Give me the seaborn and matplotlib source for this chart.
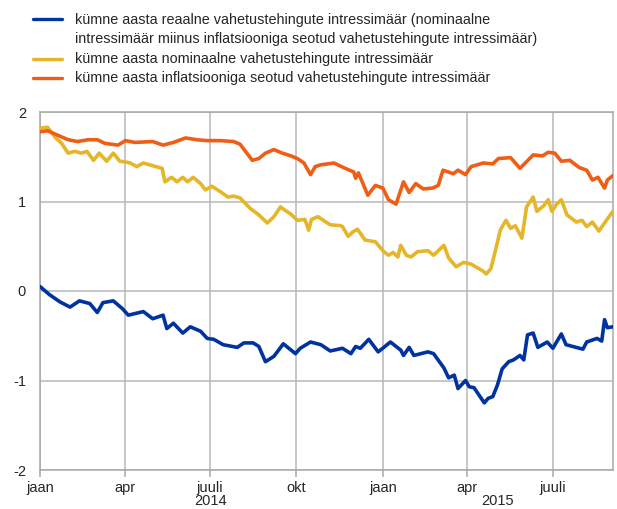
import pandas as pd
import matplotlib
matplotlib.use("Agg")
import matplotlib.pyplot as plt
import matplotlib.dates as mdates
from matplotlib.lines import Line2D
import seaborn as sns

# --- data (percent) ---
real_dates = ["2014-01-01", "2014-01-11", "2014-01-22", "2014-02-02", "2014-02-12", "2014-02-23",
              "2014-03-03", "2014-03-09", "2014-03-20", "2014-03-30", "2014-04-05", "2014-04-21",
              "2014-05-01", "2014-05-12", "2014-05-16", "2014-05-23", "2014-06-02", "2014-06-10",
              "2014-06-21", "2014-06-28", "2014-07-05", "2014-07-15", "2014-07-30", "2014-08-06",
              "2014-08-16", "2014-08-22", "2014-08-29", "2014-09-07", "2014-09-17", "2014-09-30",
              "2014-10-05", "2014-10-16", "2014-10-27", "2014-11-06", "2014-11-19", "2014-11-28",
              "2014-12-03", "2014-12-08", "2014-12-17", "2014-12-27", "2015-01-02", "2015-01-09",
              "2015-01-20", "2015-01-23", "2015-01-29", "2015-02-03", "2015-02-18", "2015-02-24",
              "2015-03-07", "2015-03-12", "2015-03-18", "2015-03-22", "2015-03-30", "2015-04-03",
              "2015-04-08", "2015-04-19", "2015-04-23", "2015-04-28", "2015-05-03", "2015-05-08",
              "2015-05-15", "2015-05-20", "2015-05-27", "2015-05-31", "2015-06-04", "2015-06-10",
              "2015-06-15", "2015-06-25", "2015-07-01", "2015-07-10", "2015-07-15", "2015-08-02",
              "2015-08-06", "2015-08-17", "2015-08-22", "2015-08-25", "2015-08-28", "2015-09-03"]
real_vals = [0.05, -0.04, -0.12, -0.18, -0.11, -0.14,
             -0.24, -0.13, -0.11, -0.20, -0.27, -0.23,
             -0.31, -0.27, -0.42, -0.36, -0.47, -0.40,
             -0.45, -0.53, -0.54, -0.60, -0.63, -0.58,
             -0.58, -0.62, -0.79, -0.73, -0.59, -0.70,
             -0.64, -0.57, -0.60, -0.67, -0.64, -0.70,
             -0.62, -0.64, -0.54, -0.68, -0.63, -0.57,
             -0.66, -0.72, -0.63, -0.72, -0.68, -0.70,
             -0.86, -0.97, -0.94, -1.09, -1.00, -1.07,
             -1.08, -1.25, -1.20, -1.18, -1.05, -0.87,
             -0.79, -0.77, -0.72, -0.77, -0.49, -0.47,
             -0.63, -0.57, -0.64, -0.48, -0.60, -0.65,
             -0.57, -0.53, -0.56, -0.32, -0.41, -0.40]

nominal_dates = ["2014-01-01", "2014-01-09", "2014-01-17", "2014-01-24", "2014-01-31", "2014-02-07",
                 "2014-02-14", "2014-02-20", "2014-02-27", "2014-03-05", "2014-03-13", "2014-03-20",
                 "2014-03-27", "2014-04-03", "2014-04-07", "2014-04-14", "2014-04-21", "2014-05-01",
                 "2014-05-11", "2014-05-14", "2014-05-21", "2014-05-27", "2014-06-02", "2014-06-07",
                 "2014-06-13", "2014-06-21", "2014-06-26", "2014-07-03", "2014-07-12", "2014-07-20",
                 "2014-07-26", "2014-08-02", "2014-08-13", "2014-08-22", "2014-08-31", "2014-09-07",
                 "2014-09-14", "2014-09-19", "2014-09-25", "2014-10-02", "2014-10-10", "2014-10-14",
                 "2014-10-17", "2014-10-24", "2014-10-31", "2014-11-06", "2014-11-17", "2014-11-19",
                 "2014-11-25", "2014-11-30", "2014-12-05", "2014-12-13", "2014-12-24", "2015-01-02",
                 "2015-01-07", "2015-01-12", "2015-01-17", "2015-01-20", "2015-01-26", "2015-01-31",
                 "2015-02-07", "2015-02-18", "2015-02-24", "2015-03-01", "2015-03-07", "2015-03-12",
                 "2015-03-20", "2015-03-28", "2015-04-05", "2015-04-18", "2015-04-21", "2015-04-26",
                 "2015-05-01", "2015-05-06", "2015-05-12", "2015-05-17", "2015-05-22", "2015-05-29",
                 "2015-06-03", "2015-06-10", "2015-06-14", "2015-06-21", "2015-06-26", "2015-06-30",
                 "2015-07-05", "2015-07-10", "2015-07-16", "2015-07-26", "2015-08-01", "2015-08-06",
                 "2015-08-12", "2015-08-19", "2015-08-27", "2015-09-03"]
nominal_vals = [1.82, 1.83, 1.72, 1.65, 1.54, 1.56,
                1.54, 1.56, 1.46, 1.54, 1.45, 1.54,
                1.45, 1.44, 1.43, 1.39, 1.43, 1.40,
                1.37, 1.22, 1.27, 1.22, 1.27, 1.22,
                1.27, 1.20, 1.13, 1.17, 1.11, 1.05,
                1.06, 1.04, 0.92, 0.85, 0.76, 0.83,
                0.94, 0.90, 0.86, 0.79, 0.80, 0.68,
                0.80, 0.83, 0.78, 0.74, 0.73, 0.72,
                0.61, 0.66, 0.69, 0.57, 0.55, 0.44,
                0.40, 0.43, 0.38, 0.51, 0.40, 0.38,
                0.44, 0.45, 0.40, 0.45, 0.51, 0.37,
                0.27, 0.32, 0.30, 0.22, 0.19, 0.25,
                0.46, 0.68, 0.79, 0.70, 0.73, 0.59,
                0.94, 1.05, 0.89, 0.95, 1.02, 0.89,
                0.97, 1.02, 0.85, 0.77, 0.79, 0.72,
                0.77, 0.67, 0.79, 0.89]

infl_dates = ["2014-01-01", "2014-01-09", "2014-01-20", "2014-01-31", "2014-02-10", "2014-02-21",
              "2014-03-03", "2014-03-11", "2014-03-25", "2014-04-02", "2014-04-12", "2014-05-01",
              "2014-05-12", "2014-05-23", "2014-06-05", "2014-06-17", "2014-06-28", "2014-07-12",
              "2014-07-26", "2014-08-02", "2014-08-15", "2014-08-22", "2014-08-29", "2014-09-07",
              "2014-09-16", "2014-09-25", "2014-10-02", "2014-10-09", "2014-10-16", "2014-10-21",
              "2014-10-27", "2014-11-10", "2014-11-22", "2014-12-01", "2014-12-03", "2014-12-06",
              "2014-12-16", "2014-12-24", "2015-01-01", "2015-01-07", "2015-01-15", "2015-01-23",
              "2015-01-29", "2015-02-05", "2015-02-13", "2015-02-23", "2015-03-01", "2015-03-06",
              "2015-03-17", "2015-03-22", "2015-03-30", "2015-04-05", "2015-04-18", "2015-04-28",
              "2015-05-04", "2015-05-17", "2015-05-27", "2015-06-10", "2015-06-20", "2015-06-26",
              "2015-07-03", "2015-07-10", "2015-07-19", "2015-07-29", "2015-08-06", "2015-08-12",
              "2015-08-18", "2015-08-25", "2015-08-28", "2015-09-03"]
infl_vals = [1.78, 1.79, 1.74, 1.69, 1.67, 1.69,
             1.69, 1.65, 1.63, 1.68, 1.66, 1.67,
             1.63, 1.66, 1.71, 1.69, 1.68, 1.68,
             1.67, 1.64, 1.46, 1.48, 1.54, 1.58,
             1.54, 1.51, 1.48, 1.43, 1.30, 1.39,
             1.41, 1.43, 1.37, 1.33, 1.26, 1.32,
             1.07, 1.18, 1.15, 1.02, 0.97, 1.22,
             1.10, 1.20, 1.14, 1.15, 1.18, 1.35,
             1.31, 1.35, 1.30, 1.39, 1.43, 1.42,
             1.48, 1.49, 1.37, 1.52, 1.51, 1.55,
             1.54, 1.45, 1.46, 1.38, 1.35, 1.24,
             1.27, 1.15, 1.24, 1.29]

labels = ["kümne aasta reaalne vahetustehingute intressimäär (nominaalne\n"
          "intressimäär miinus inflatsiooniga seotud vahetustehingute intressimäär)",
          "kümne aasta nominaalne vahetustehingute intressimäär",
          "kümne aasta inflatsiooniga seotud vahetustehingute intressimäär"]
colors = ["#0033a0", "#e5b52a", "#f05e16"]
month_names = {1: "jaan", 4: "apr", 7: "juuli", 10: "okt"}

df = pd.concat([
    pd.DataFrame({"date": pd.to_datetime(real_dates), "value": real_vals, "series": "real"}),
    pd.DataFrame({"date": pd.to_datetime(nominal_dates), "value": nominal_vals, "series": "nominal"}),
    pd.DataFrame({"date": pd.to_datetime(infl_dates), "value": infl_vals, "series": "inflation"}),
])

sns.set_style("white")
plt.rcParams['font.family'] = ['Liberation Sans', 'DejaVu Sans']

fig = plt.figure(figsize=(6.17, 5.09), dpi=100)
ax = fig.add_axes([40 / 617, 39 / 509, 573 / 617, 358 / 509])

sns.lineplot(data=df, x="date", y="value", hue="series", estimator=None,
             hue_order=["real", "nominal", "inflation"],
             palette=dict(zip(["real", "nominal", "inflation"], colors)),
             linewidth=2.6, legend=False, ax=ax, zorder=3)

ax.set_xlim(pd.Timestamp("2014-01-01"), pd.Timestamp("2015-09-03"))
ax.set_ylim(-2, 2)
ax.set_yticks([-2, -1, 0, 1, 2])
ax.set_yticklabels(["-2", "-1", "0", "1", "2"])
ax.xaxis.set_major_locator(mdates.MonthLocator(bymonth=[1, 4, 7, 10]))
ax.xaxis.set_major_formatter(plt.FuncFormatter(lambda v, p: month_names[mdates.num2date(v).month]))
ax.set_xlabel("")
ax.set_ylabel("")

ax.grid(True, color="#b8b8b8", linewidth=1.1)
for s in ax.spines.values():
    s.set_color("#a8a8a8")
    s.set_linewidth(1.1)
ax.tick_params(axis="x", length=5, width=1.1, color="#a8a8a8", pad=3, labelsize=10.5, bottom=True)
ax.tick_params(axis="y", length=0, pad=10, labelsize=10.5)

# year labels centred under each year's part of the axis
trans = ax.get_xaxis_transform()
ax.text(pd.Timestamp("2014-07-02"), -0.086, "2014", transform=trans, ha="center", va="center", fontsize=10.5)
ax.text(pd.Timestamp("2015-05-03"), -0.086, "2015", transform=trans, ha="center", va="center", fontsize=10.5)

# legend drawn at the top
rows = [19, 59, 78]
for lab, col, yy in zip(labels, colors, rows):
    fig.add_artist(Line2D([33 / 617, 62 / 617], [1 - yy / 509] * 2, color=col, linewidth=2.4))
fig.text(75 / 617, 1 - 29.5 / 509, labels[0], ha="left", va="center", fontsize=10.4, linespacing=1.5)
fig.text(75 / 617, 1 - 59 / 509, labels[1], ha="left", va="center", fontsize=10.4)
fig.text(75 / 617, 1 - 78 / 509, labels[2], ha="left", va="center", fontsize=10.4)

fig.savefig("out.png", dpi=100)
